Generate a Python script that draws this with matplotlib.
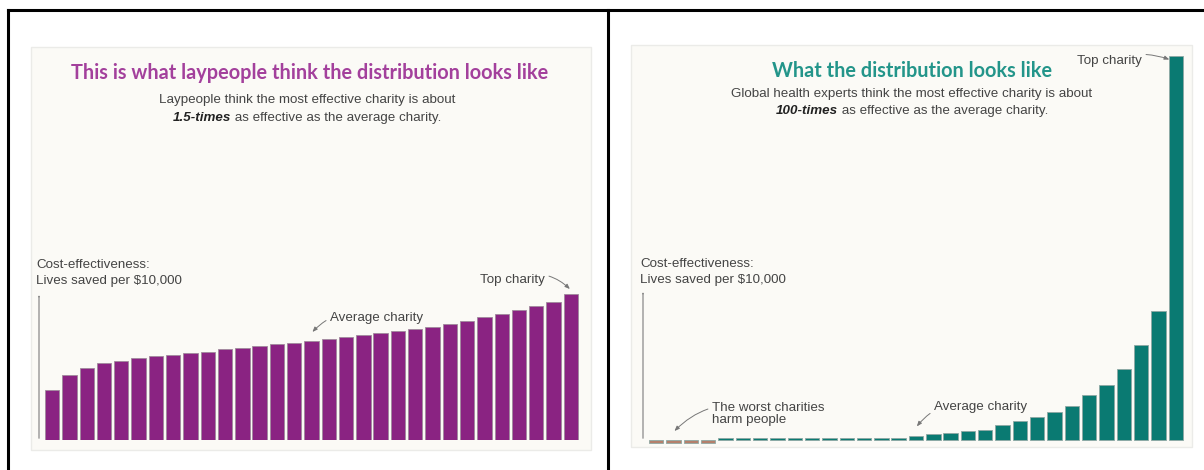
import matplotlib
matplotlib.use("Agg")
import matplotlib.pyplot as plt
from matplotlib.patches import Rectangle, FancyArrowPatch
from matplotlib.lines import Line2D

W, H = 1204, 470
DPI = 100

# ---------------- data ----------------
lay_values = [0.50, 0.65, 0.72, 0.77, 0.79, 0.82, 0.84, 0.855, 0.87, 0.883,
              0.907, 0.92, 0.937, 0.957, 0.973, 0.99, 1.01, 1.027, 1.047, 1.07,
              1.087, 1.11, 1.13, 1.163, 1.187, 1.227, 1.263, 1.297, 1.343, 1.383, 1.46]
expert_values = [-0.025, -0.025, -0.025, -0.025,
                 0.018, 0.018, 0.018, 0.018, 0.018, 0.018, 0.018, 0.018, 0.018, 0.018, 0.018,
                 0.045, 0.062, 0.072, 0.087, 0.102, 0.155, 0.193, 0.228, 0.279, 0.343,
                 0.45, 0.553, 0.708, 0.953, 1.293, 3.84]
n_harmful = 4

lay_title = "This is what laypeople think the distribution looks like"
lay_sub1 = "Laypeople think the most effective charity is about"
lay_sub_bold = "1.5-times"
lay_sub2 = " as effective as the average charity."
exp_title = "What the distribution looks like"
exp_sub1 = "Global health experts think the most effective charity is about"
exp_sub_bold = "100-times"
exp_sub2 = " as effective as the average charity."
axis_label = "Cost-effectiveness:\nLives saved per $10,000"

PURPLE = "#8a2382"
PURPLE_T = "#a3409c"
TEAL = "#0a7a72"
TEAL_T = "#23958a"
BROWN = "#b4806c"
TXT = "#444444"
BG = "#fbfaf6"

fig = plt.figure(figsize=(W / DPI, H / DPI), dpi=DPI)
fig.patch.set_facecolor("white")


def fx(x):
    return x / W


def fy(y):
    return 1 - y / H


def px_axes(x0, y_top, x1, y_bot):
    return fig.add_axes([fx(x0), fy(y_bot), (x1 - x0) / W, (y_bot - y_top) / H])


# outer frame lines
for (x0, y0, x1, y1) in [(8, 10, 1204, 10), (8, 10, 8, 470), (608, 10, 608, 470)]:
    fig.add_artist(Line2D([fx(x0), fx(x1)], [fy(y0), fy(y1)], color="black", lw=2.2,
                          transform=fig.transFigure))

# panel backgrounds
for (x0, y0, x1, y1) in [(31, 47, 591, 450), (631, 45, 1192, 447)]:
    fig.add_artist(Rectangle((fx(x0), fy(y1)), (x1 - x0) / W, (y1 - y0) / H,
                             transform=fig.transFigure, facecolor=BG,
                             edgecolor="#ebebe8", lw=1.0, zorder=0))


def setup(ax):
    ax.set_facecolor("none")
    for s in ax.spines.values():
        s.set_visible(False)
    ax.set_xticks([])
    ax.set_yticks([])


# ---------- left panel bars ----------
n = len(lay_values)
axL = px_axes(43.5, 290, 579.5, 440)
setup(axL)
axL.bar(range(n), lay_values, width=0.83, color=PURPLE, edgecolor="#a08a9c", lw=0.6)
axL.set_xlim(-0.5, n - 0.5)
axL.set_ylim(0, 1.5)

# ---------- right panel bars ----------
m = len(expert_values)
axR = px_axes(647.5, 40, 1184.5, 445)
setup(axR)
colors = [BROWN] * n_harmful + [TEAL] * (m - n_harmful)
axR.bar(range(m), expert_values, width=0.83, color=colors, edgecolor="#8fa8a4", lw=0.6)
axR.set_xlim(-0.5, m - 0.5)
axR.set_ylim(-0.05, 4.0)


# ---------- text helpers ----------
def ftext(x, y, s, **kw):
    return fig.text(fx(x), fy(y), s, **kw)


# titles
ftext(310, 73, lay_title, ha="center", va="center", fontsize=14.3,
      family="Lato", weight="bold", color=PURPLE_T)
ftext(912, 71, exp_title, ha="center", va="center", fontsize=14.3,
      family="Lato", weight="bold", color=TEAL_T)

SUB_FS = 9.6
ftext(307, 100, lay_sub1, ha="center", va="center", fontsize=SUB_FS,
      family="Liberation Sans", color=TXT)
ftext(912, 94, exp_sub1, ha="center", va="center", fontsize=SUB_FS,
      family="Liberation Sans", color=TXT)

renderer = fig.canvas.get_renderer()


def mixed_line(xc, y, bold, rest):
    t1 = ftext(0, y, bold, ha="left", va="center", fontsize=SUB_FS,
               family="Liberation Sans", weight="bold", style="italic", color="#222222")
    t2 = ftext(0, y, rest, ha="left", va="center", fontsize=SUB_FS,
               family="Liberation Sans", color=TXT)
    w1 = t1.get_window_extent(renderer).width
    w2 = t2.get_window_extent(renderer).width
    start = xc - (w1 + w2) / 2
    t1.set_x(fx(start))
    t2.set_x(fx(start + w1))


mixed_line(307, 118, lay_sub_bold, lay_sub2)
mixed_line(912, 111, exp_sub_bold, exp_sub2)

LAB_FS = 9.6
ftext(36, 273, axis_label, ha="left", va="center", fontsize=LAB_FS,
      family="Liberation Sans", color=TXT, linespacing=1.45)
ftext(640, 272, axis_label, ha="left", va="center", fontsize=LAB_FS,
      family="Liberation Sans", color=TXT, linespacing=1.45)

# y-axis arrows
arrow_kw = dict(arrowstyle="-|>,head_length=0.35,head_width=0.15", color="#8a8a8a", lw=0.9)
fig.add_artist(FancyArrowPatch((fx(39), fy(441)), (fx(39), fy(292)),
                               transform=fig.transFigure, **arrow_kw))
fig.add_artist(FancyArrowPatch((fx(643), fy(441)), (fx(643), fy(289)),
                               transform=fig.transFigure, **arrow_kw))

ann_arrow = dict(arrowstyle="-|>,head_length=0.3,head_width=0.12", color="#777777", lw=0.7)

# left annotations
axL.annotate("Average charity", xy=(15, lay_values[15] + 0.08), xycoords="data",
             xytext=(fx(330), fy(318)), textcoords="figure fraction",
             ha="left", va="center", fontsize=LAB_FS, family="Liberation Sans", color=TXT,
             arrowprops=dict(connectionstyle="arc3,rad=0.35", shrinkA=1, shrinkB=1, **ann_arrow))
axL.annotate("Top charity", xy=(30, lay_values[30] + 0.04), xycoords="data",
             xytext=(fx(480), fy(280)), textcoords="figure fraction",
             ha="left", va="center", fontsize=LAB_FS, family="Liberation Sans", color=TXT,
             arrowprops=dict(connectionstyle="arc3,rad=-0.35", shrinkA=1, shrinkB=1, **ann_arrow))

# right annotations
axR.annotate("Average charity", xy=(15, expert_values[15] + 0.08), xycoords="data",
             xytext=(fx(934), fy(407)), textcoords="figure fraction",
             ha="left", va="center", fontsize=LAB_FS, family="Liberation Sans", color=TXT,
             arrowprops=dict(connectionstyle="arc3,rad=0.35", shrinkA=1, shrinkB=1, **ann_arrow))
axR.annotate("The worst charities\nharm people", xy=(1, 0.08), xycoords="data",
             xytext=(fx(712), fy(414)), textcoords="figure fraction",
             ha="left", va="center", fontsize=LAB_FS, family="Liberation Sans", color=TXT,
             linespacing=1.1,
             arrowprops=dict(connectionstyle="arc3,rad=0.35", shrinkA=1, shrinkB=1, **ann_arrow))
axR.annotate("Top charity", xy=(29.7, expert_values[30] - 0.04), xycoords="data",
             xytext=(fx(1077), fy(61)), textcoords="figure fraction",
             ha="left", va="center", fontsize=LAB_FS, family="Liberation Sans", color=TXT,
             arrowprops=dict(connectionstyle="arc3,rad=-0.2", shrinkA=1, shrinkB=1, **ann_arrow))

fig.savefig("out.png", dpi=DPI, facecolor="white")
